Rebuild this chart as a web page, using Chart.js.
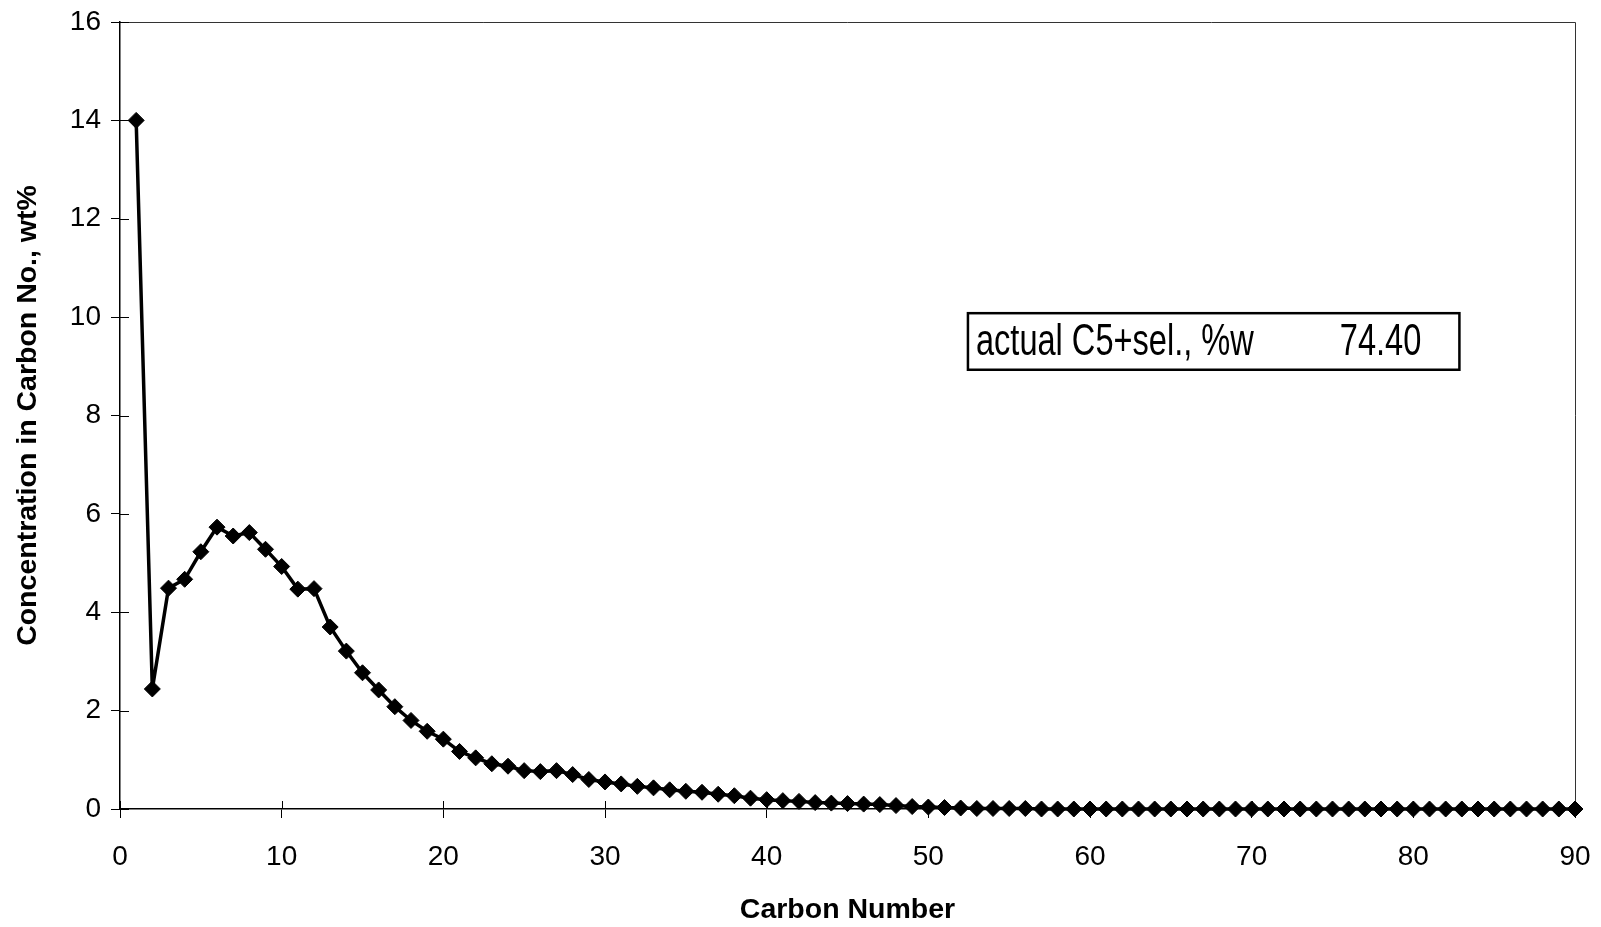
<!DOCTYPE html>
<html>
<head>
<meta charset="utf-8">
<script src="https://cdn.jsdelivr.net/npm/chart.js@4"></script>
<style>
  html, body { margin: 0; padding: 0; background: #fff; }
  #wrap { width: 1601px; height: 927px; position: relative; }
</style>
</head>
<body>
<div id="wrap"><canvas id="carbonChart"></canvas></div>
<script>
// concentration (wt%) for carbon numbers 1..90
const concentration = [
  14.0, 2.44, 4.49, 4.67, 5.23, 5.73, 5.55, 5.62, 5.28, 4.93,
  4.47, 4.48, 3.70, 3.21, 2.77, 2.42, 2.08, 1.80, 1.58, 1.42,
  1.17, 1.04, 0.92, 0.87, 0.78, 0.76, 0.78, 0.70, 0.60, 0.55,
  0.51, 0.46, 0.43, 0.39, 0.36, 0.34, 0.30, 0.27, 0.22, 0.19,
  0.17, 0.155, 0.13, 0.12, 0.11, 0.10, 0.09, 0.07, 0.05, 0.04,
  0.03, 0.02, 0.01, 0.01, 0.01, 0.01, 0.0, 0.0, 0.0, 0.0,
  0.0, 0.0, 0.0, 0.0, 0.0, 0.0, 0.0, 0.0, 0.0, 0.0,
  0.0, 0.0, 0.0, 0.0, 0.0, 0.0, 0.0, 0.0, 0.0, 0.0,
  0.0, 0.0, 0.0, 0.0, 0.0, 0.0, 0.0, 0.0, 0.0, 0.0
];
const carbonNumbers = concentration.map((v, i) => i + 1);

const xTicks = [0, 10, 20, 30, 40, 50, 60, 70, 80, 90];
const yTicks = [0, 2, 4, 6, 8, 10, 12, 14, 16];

const boxLabel = 'actual C5+sel., %w';
const boxValue = '74.40';

const FONT = '"Liberation Sans", Arial, Helvetica, sans-serif';

// frame on top/right and tick marks that cross the axes
const framePlugin = {
  id: 'frame',
  beforeDatasetsDraw(chart) {
    const { ctx, chartArea: a, scales } = chart;
    ctx.save();
    ctx.strokeStyle = '#333';
    ctx.lineWidth = 1;
    ctx.beginPath();
    ctx.moveTo(a.left, a.top + 0.5);
    ctx.lineTo(a.right + 0.5, a.top + 0.5);
    ctx.lineTo(a.right + 0.5, a.bottom);
    ctx.stroke();

    ctx.strokeStyle = '#000';
    ctx.beginPath();
    yTicks.forEach(v => {
      const py = Math.round(scales.y.getPixelForValue(v)) + 0.5;
      ctx.moveTo(a.left, py);
      ctx.lineTo(a.left + 9, py);
    });
    xTicks.forEach(v => {
      const px = Math.round(scales.x.getPixelForValue(v)) + 0.5;
      ctx.moveTo(px, a.bottom);
      ctx.lineTo(px, a.bottom - 8);
    });
    ctx.stroke();
    ctx.restore();
  }
};

// the "actual C5+sel." text box
const boxPlugin = {
  id: 'selBox',
  afterDraw(chart) {
    const { ctx, scales: { x, y } } = chart;
    const left = x.getPixelForValue(52.45);
    const right = x.getPixelForValue(82.85);
    const top = y.getPixelForValue(10.08);
    const bottom = y.getPixelForValue(8.93);
    ctx.save();
    ctx.fillStyle = '#fff';
    ctx.fillRect(left, top, right - left, bottom - top);
    ctx.strokeStyle = '#000';
    ctx.lineWidth = 2.5;
    ctx.strokeRect(left, top, right - left, bottom - top);

    ctx.fillStyle = '#000';
    ctx.font = '44px ' + FONT;
    ctx.textBaseline = 'middle';
    const midY = (top + bottom) / 2 + 1;
    ctx.save();
    ctx.translate(left + 8, midY);
    ctx.scale(0.74, 1);
    ctx.fillText(boxLabel, 0, 0);
    ctx.restore();
    ctx.save();
    ctx.translate(x.getPixelForValue(75.45), midY);
    ctx.scale(0.74, 1);
    ctx.fillText(boxValue, 0, 0);
    ctx.restore();
    ctx.restore();
  }
};

// fixed axis sizes, no extra label overhang padding
function fixX(s) {
  s.height = 118;
  s.paddingLeft = 0; s.paddingRight = 0; s.paddingTop = 0; s.paddingBottom = 0;
}
function fixY(s) {
  s.width = 120;
  s.paddingLeft = 0; s.paddingRight = 0; s.paddingTop = 0; s.paddingBottom = 0;
}

const ctx = document.getElementById('carbonChart').getContext('2d');
new Chart(ctx, {
  type: 'line',
  data: {
    datasets: [{
      data: carbonNumbers.map((c, i) => ({ x: c, y: concentration[i] })),
      borderColor: '#000',
      borderWidth: 3.5,
      backgroundColor: '#000',
      pointStyle: 'rectRot',
      pointRadius: 8,
      pointBorderWidth: 1,
      pointBorderColor: '#000',
      pointBackgroundColor: '#000',
      tension: 0,
      clip: false
    }]
  },
  options: {
    responsive: true,
    maintainAspectRatio: false,
    animation: false,
    layout: { padding: { left: 0, right: 26, top: 22, bottom: 0 } },
    plugins: {
      legend: { display: false },
      tooltip: { enabled: false }
    },
    scales: {
      x: {
        type: 'linear',
        min: 0,
        max: 90,
        afterBuildTicks: s => { s.ticks = xTicks.map(v => ({ value: v })); },
        afterFit: fixX,
        grid: { display: true, drawOnChartArea: false, color: '#000', tickLength: 9, tickWidth: 1 },
        border: { display: true, color: '#000', width: 1.5 },
        ticks: { color: '#000', font: { family: FONT, size: 28 }, padding: 22, maxRotation: 0 },
        title: {
          display: true,
          text: 'Carbon Number',
          color: '#000',
          font: { family: FONT, size: 28.5, weight: 'bold' },
          padding: { top: 0, bottom: 0 }
        }
      },
      y: {
        min: 0,
        max: 16,
        afterBuildTicks: s => { s.ticks = yTicks.map(v => ({ value: v })); },
        afterFit: fixY,
        grid: { display: true, drawOnChartArea: false, color: '#000', tickLength: 9, tickWidth: 1 },
        border: { display: true, color: '#000', width: 1.5 },
        ticks: { color: '#000', font: { family: FONT, size: 28 }, padding: 10 },
        title: {
          display: true,
          text: 'Concentration in Carbon No., wt%',
          color: '#000',
          font: { family: FONT, size: 28.5, weight: 'bold' },
          padding: { top: 11, bottom: 0 }
        }
      }
    }
  },
  plugins: [framePlugin, boxPlugin]
});
</script>
</body>
</html>
